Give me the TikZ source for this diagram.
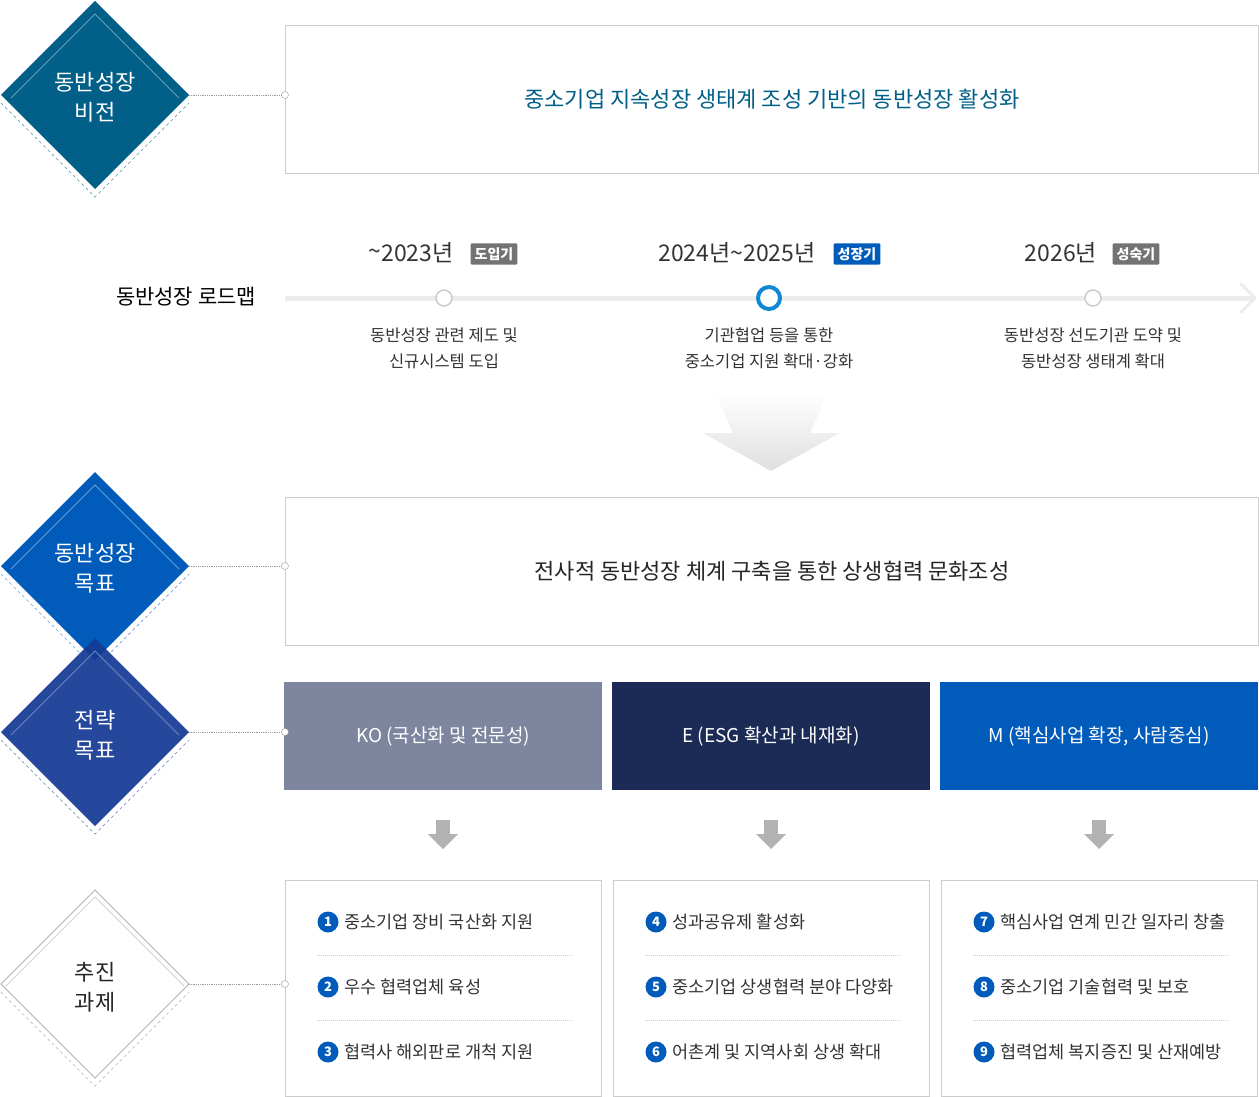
\documentclass[tikz,border=0pt]{standalone}
\usepackage{fontspec}
\setmainfont{Noto Sans CJK KR}
\usetikzlibrary{shadings}
\definecolor{cvis}{HTML}{025F87}
\definecolor{cgoal}{HTML}{005BBB}
\definecolor{cstr}{HTML}{143A94}
\definecolor{cko}{HTML}{7D869E}
\definecolor{ce}{HTML}{1B2B55}
\definecolor{cbox}{HTML}{CCCCCC}
\definecolor{ctxt}{HTML}{333333}
\begin{document}
\begin{tikzpicture}[x=1pt,y=-1pt,
  dtext/.style={text=white,align=center,font=\fontsize{22}{30}\selectfont},
  frame/.style={draw=cbox,line width=1pt},
  conn/.style={draw=gray!80,densely dotted,line width=0.8pt},
  endc/.style={circle,draw=gray!80,fill=white,inner sep=0pt,minimum size=7pt},
  tag/.style={fill=#1,text=white,font=\bfseries\fontsize{14}{14}\selectfont,inner sep=4pt,rounded corners=1pt},
  yr/.style={text=ctxt,font=\fontsize{23}{26}\selectfont},
  desc/.style={text=ctxt,align=center,font=\fontsize{16.5}{26}\selectfont},
  num/.style={circle,fill=cgoal,text=white,inner sep=0pt,minimum size=21pt,font=\bfseries\fontsize{13}{13}\selectfont},
  item/.style={anchor=west,text=ctxt,font=\fontsize{17.5}{20}\selectfont},
  sep/.style={draw=gray!40,densely dotted,line width=1pt},
  sarrow/.style={fill=gray!60,draw=none}]
\useasboundingbox (0,0) rectangle (1259,1097);
% diamond macro via pics
\tikzset{pics/dia/.style n args={3}{code={
  \draw[#2,dashed,line width=0.7pt] (-94,8) -- (0,102) -- (94,8);
  \fill[#1] (0,-94) -- (94,0) -- (0,94) -- (-94,0) -- cycle;
  \draw[#3,line width=0.8pt] (-84,3) -- (0,-81) -- (84,3);
}}}
% Vision
\pic at (95,95) {dia={cvis}{cvis!70}{white!40!cvis}};
\node[dtext] (dv) at (95,97) {동반성장\\비전};
\node[frame,minimum width=973pt,minimum height=148pt,anchor=north west] (bv) at (285,25) {};
\node[text=cvis,font=\fontsize{22}{26}\selectfont] at (bv.center) {중소기업 지속성장 생태계 조성 기반의 동반성장 활성화};
\coordinate (vr) at (189,95);
\draw[conn] (vr) -- (285,95);
\node[endc] at (285,95) {};
% Roadmap
\node[font=\fontsize{21}{24}\selectfont,text=black] (rm) at (186,297) {동반성장 로드맵};
\coordinate (ts) at (285,298); \coordinate (te) at (1254,298);
\draw[line width=5pt,gray!15] (ts) -- (te);
\draw[line width=3pt,gray!15,line cap=round,line join=round] (1241,284) -- (1255,298) -- (1241,312);
\node[circle,draw=gray!40,fill=white,line width=1.5pt,minimum size=16pt,inner sep=0pt] (c1) at (444,298) {};
\node[circle,draw=cyan!70!blue,fill=white,line width=4pt,minimum size=22pt,inner sep=0pt] (c2) at (769,298) {};
\node[circle,draw=gray!40,fill=white,line width=1.5pt,minimum size=16pt,inner sep=0pt] (c3) at (1093,298) {};
\node[yr] at (411,253) {\raisebox{2pt}{\char`~}2023년};
\node[tag=gray!90!black] at (494,254) {도입기};
\node[yr] at (737,253) {2024년\char`~2025년};
\node[tag=cgoal] at (857,254) {성장기};
\node[yr] at (1061,253) {2026년};
\node[tag=gray!90!black] at (1136,254) {성숙기};
\node[desc] at (444,348) {동반성장 관련 제도 및\\신규시스템 도입};
\node[desc] at (769,348) {기관협업 등을 통한\\중소기업 지원 확대·강화};
\node[desc] at (1093,348) {동반성장 선도기관 도약 및\\동반성장 생태계 확대};
% big arrow
\shade[top color=white,bottom color=gray!25] (715,393) -- (828,393) -- (810,433) -- (840,433) -- (771,471) -- (703,433) -- (733,433) -- cycle;
% Goal
\pic at (95,566) {dia={cgoal}{cgoal!60}{white!40!cgoal}};
\node[frame,minimum width=973pt,minimum height=148pt,anchor=north west] (bg) at (285,497) {};
\node[text=black!85,font=\fontsize{22}{26}\selectfont] at (bg.center) {전사적 동반성장 체계 구축을 통한 상생협력 문화조성};
\draw[conn] (189,566) -- (285,566);
\node[endc] at (285,566) {};
% Strategy
\begin{scope}[opacity=0.93]
\pic at (95,732) {dia={cstr}{cstr!60}{white!40!cstr}};
\end{scope}
\node[dtext] at (95,568) {동반성장\\목표};
\node[dtext] at (95,735) {전략\\목표};
\foreach \x/\c/\t [count=\i] in {284/cko/KO (국산화 및 전문성),612/ce/E (ESG 확산과 내재화),940/cgoal/M (핵심사업 확장{,} 사람중심)}{
  \node[fill=\c,minimum width=318pt,minimum height=108pt,anchor=north west,inner sep=0pt] (s\i) at (\x,682) {};
  \node[text=white,font=\fontsize{19}{22}\selectfont] at (s\i.center) {\t};
  \fill[sarrow] (\x+152,820) rectangle (\x+166,834);
  \fill[sarrow] (\x+144,834) -- (\x+174,834) -- (\x+159,849) -- cycle;
  \node[frame,minimum width=316pt,minimum height=216pt,anchor=north west] (t\i) at (\x+1,880) {};
  \draw[sep] (\x+33,955) -- (\x+288,955);
  \draw[sep] (\x+33,1020) -- (\x+288,1020);
}
\draw[conn] (189,732) -- (284,732);
\node[endc] at (285,732) {};
% items
\foreach \x/\n/\t in {284/1/중소기업 장비 국산화 지원,284/2/우수 협력업체 육성,284/3/협력사 해외판로 개척 지원,
  612/4/성과공유제 활성화,612/5/중소기업 상생협력 분야 다양화,612/6/어촌계 및 지역사회 상생 확대,
  940/7/핵심사업 연계 민간 일자리 창출,940/8/중소기업 기술협력 및 보호,940/9/협력업체 복지증진 및 산재예방}{
  \pgfmathsetmacro{\yy}{922+65*mod(\n-1,3)}
  \node[num] at (\x+44,\yy) {\n};
  \node[item] at (\x+57,\yy) {\t};
}
% Tasks diamond
\draw[gray!50,dashed,line width=0.7pt] (1,992) -- (95,1086) -- (189,992);
\fill[white] (95,890) -- (189,984) -- (95,1078) -- (1,984) -- cycle;
\draw[gray!60,line width=0.8pt] (95,890) -- (189,984) -- (95,1078) -- (1,984) -- cycle;
\draw[gray!35,line width=0.8pt] (6,986) -- (95,897) -- (184,986);
\node[align=center,text=black!85,font=\fontsize{22}{30}\selectfont] at (95,987) {추진\\과제};
\draw[conn] (189,984) -- (285,984);
\node[endc] at (285,984) {};
\end{tikzpicture}
\end{document}
